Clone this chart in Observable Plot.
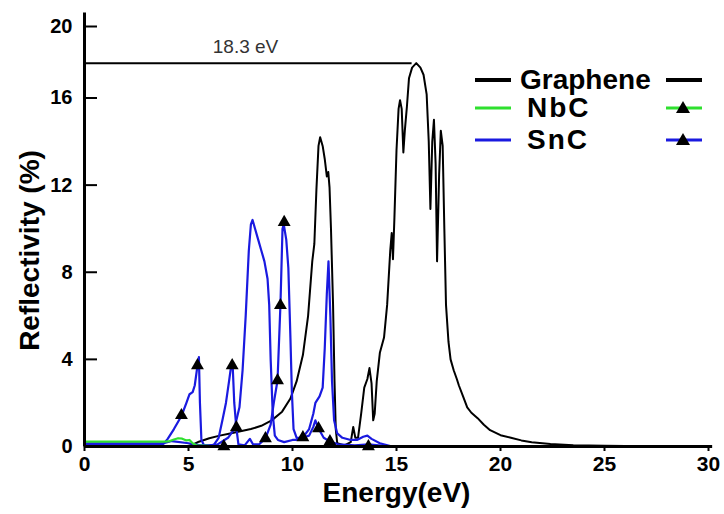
<!DOCTYPE html>
<html><head><meta charset="utf-8">
<script src="https://cdn.jsdelivr.net/npm/d3@7"></script>
<script src="https://cdn.jsdelivr.net/npm/@observablehq/plot@0.6"></script>
<style>
body{margin:0;background:#fff;font-family:"Liberation Sans",Arial,sans-serif;}
#wrap{position:relative;width:724px;height:514px;overflow:hidden;}
.lt{position:absolute;font-weight:bold;font-size:28px;line-height:28px;height:28px;color:#000;white-space:nowrap;}
.sw{position:absolute;}
</style></head><body><div id="wrap"></div>
<script>
// ---- data ----
const xTicks = [0, 5, 10, 15, 20, 25, 30];
const yTicks = [0, 4, 8, 12, 16, 20];

const grapheneE = [0,4.9,5.2,5.5,6.0,6.5,7.0,7.5,8.0,8.5,9.0,9.5,9.9,10.2,10.5,10.75,10.95,11.05,11.15,11.25,11.33,11.45,11.55,11.65,11.72,11.78,11.85,11.95,12.02,12.08,12.15,12.5,12.8,12.92,13.02,13.15,13.3,13.45,13.6,13.7,13.8,13.88,13.95,14.05,14.2,14.4,14.55,14.7,14.77,14.83,14.9,15.0,15.1,15.17,15.25,15.33,15.4,15.5,15.6,15.75,15.95,16.15,16.3,16.45,16.55,16.63,16.72,16.8,16.88,16.95,17.05,17.13,17.22,17.3,17.38,17.5,17.6,17.75,17.9,18.0,18.2,18.4,18.6,18.9,19.2,19.5,20.0,20.5,21.0,21.5,22.4,23.5,25,27,30];
const grapheneR = [0,0,0.08,0.22,0.38,0.5,0.6,0.7,0.8,0.95,1.2,1.6,2.2,3.0,4.2,6.0,8.5,9.3,11.8,13.8,14.2,13.8,13.2,12.4,12.6,11.9,10.0,6.5,3.0,0.8,0.15,0.05,0.2,0.9,0.4,0.4,1.5,2.7,3.1,3.6,2.9,1.2,1.5,3.0,4.3,5.0,6.5,9.0,9.8,8.6,10.5,13.6,15.5,15.9,15.5,13.5,14.5,15.6,17.1,17.7,17.95,17.7,17.3,16.2,14.0,10.9,14.0,15.0,13.0,8.5,12.5,14.5,13.8,10.0,6.5,4.8,4.0,3.5,3.1,2.8,2.3,1.8,1.55,1.3,1.0,0.75,0.52,0.4,0.28,0.2,0.12,0.06,0.03,0.01,0];

const nbcE = [0,3.9,4.1,4.3,4.5,4.7,4.9,5.05,5.2,5.4,6,15];
const nbcR = [0.22,0.22,0.25,0.32,0.38,0.36,0.28,0.3,0.15,0.05,0.03,0];

// SnC (plain line)
const sncE = [0,3.8,4.2,5.0,5.6,6.0,6.4,6.9,7.2,7.45,7.6,7.75,7.9,8.0,8.08,8.2,8.35,8.5,8.65,8.8,8.88,8.95,9.05,9.15,9.3,9.6,10.0,10.4,10.8,11.0,11.1,11.3,11.45,11.55,11.65,11.73,11.82,11.9,12.0,12.15,12.4,12.8,13.1,13.4,13.6,13.8,14.2,14.7,15];
const sncR = [0.15,0.15,0.25,0.15,0.05,0.05,0.1,0.4,0.8,1.8,3.5,6.0,9.0,10.2,10.4,10.0,9.5,9.0,8.5,7.7,6.5,4.0,1.5,0.5,0.3,0.2,0.3,0.3,0.8,1.5,2.0,2.3,2.7,4.5,7.0,8.5,6.0,3.0,1.2,0.6,0.4,0.3,0.3,0.45,0.5,0.35,0.15,0.02,0];

// SnC (line with triangles)
const sncTriE = [0,3.8,4.0,4.3,4.66,4.9,5.05,5.2,5.3,5.43,5.5,5.55,5.62,5.75,6.2,6.45,6.65,6.8,6.95,7.05,7.12,7.2,7.3,7.4,7.7,7.95,8.1,8.4,8.7,8.95,9.1,9.28,9.42,9.52,9.58,9.7,9.8,9.9,9.97,10.05,10.2,10.5,10.8,11.0,11.1,11.25,11.5,11.8,12.2,13.0,13.65,14.5,15];
const sncTriR = [0.12,0.12,0.35,0.8,1.4,2.0,2.4,2.5,2.8,3.7,4.1,2.0,0.3,0.05,0.05,0.4,1.3,2.0,3.0,3.7,3.8,2.0,0.87,0.1,0.05,0.35,0.1,0.1,0.37,1.0,2.0,3.03,6.5,10.0,10.2,9.5,8.2,5.0,2.5,0.8,0.4,0.41,0.5,0.9,1.2,0.83,0.4,0.23,0.1,0.05,0.1,0.02,0];

const markE = [4.66,5.43,6.7,7.1,7.3,8.7,9.28,9.42,9.6,10.5,11.25,11.8,13.65];
const markR = [1.43,3.72,0,3.72,0.87,0.37,3.03,6.48,10.3,0.41,0.83,0.23,0];

const peakR = 17.95, peakLineEnd = 15.75;
const peakLabel = "18.3 eV", peakLabelE = 7.74, peakLabelR = 18.85;

const legendNames = ["Graphene", "NbC", "SnC"];
const legendColors = ["#000000", "#2ee02e", "#1a1ae0"];
const legendTri = [false, true, true];

const axisXEnd = 30.2, axisYEnd = 20.75;

// ---- build ----
const zip = (E, R) => E.map((e, i) => ({e, r: R[i]}));
const blue = "#1a1ae0", green = "#2ee02e";

const chart = Plot.plot({
  width: 724, height: 514,
  marginLeft: 84, marginRight: 16, marginTop: 10, marginBottom: 68,
  style: {fontFamily: "Liberation Sans, Arial, sans-serif", background: "white", overflow: "visible", color: "black"},
  x: {type: "linear", domain: [0, 30]},
  y: {type: "linear", domain: [0, 16, 20], range: [446, 97.5, 26]},
  marks: [
    Plot.line(zip(grapheneE, grapheneR), {x: "e", y: "r", stroke: "black", strokeWidth: 2}),
    Plot.line(zip(sncTriE, sncTriR), {x: "e", y: "r", stroke: blue, strokeWidth: 2.2}),
    Plot.line(zip(sncE, sncR), {x: "e", y: "r", stroke: blue, strokeWidth: 2.2}),
    Plot.line(zip(nbcE, nbcR), {x: "e", y: "r", stroke: green, strokeWidth: 2.2}),
    Plot.dot(zip(markE, markR), {x: "e", y: "r", symbol: "triangle", r: 4.8, fill: "black", stroke: "none"}),
    Plot.ruleY([peakR], {x1: 0, x2: peakLineEnd, stroke: "black", strokeWidth: 2}),
    Plot.text([peakLabel], {x: peakLabelE, y: peakLabelR, text: d => d, fontSize: 19, fill: "#333"}),
    Plot.ruleX([0], {y1: 0, y2: axisYEnd, stroke: "black", strokeWidth: 3}),
    Plot.ruleY([0], {x1: 0, x2: axisXEnd, stroke: "black", strokeWidth: 3}),
    Plot.axisY(yTicks, {anchor: "left", tickSize: -13, tickPadding: 25, fontSize: 20, fontWeight: "bold", strokeWidth: 2, label: null}),
    Plot.axisX(xTicks, {anchor: "bottom", tickSize: 5, tickPadding: 5, fontSize: 21, fontWeight: "bold", strokeWidth: 2, label: null}),
    Plot.text(["Energy(eV)"], {frameAnchor: "bottom", lineAnchor: "middle", textAnchor: "middle", dy: 47, fontSize: 28, fontWeight: "bold", fill: "black"}),
    Plot.text(["Reflectivity (%)"], {frameAnchor: "left", textAnchor: "middle", lineAnchor: "middle", rotate: -90, dx: -54, dy: 22, fontSize: 28, fontWeight: "bold", fill: "black"})
  ]
});
const wrap = document.getElementById("wrap");
wrap.appendChild(chart);

// legend overlay
const rowsY = [80, 108, 140];
const textX = [520, 527, 527];
legendNames.forEach((name, i) => {
  const cy = rowsY[i];
  const t = document.createElement("div");
  t.className = "lt";
  t.textContent = name;
  t.style.left = textX[i] + "px";
  t.style.top = (cy - 14) + "px";
  if (i > 0) t.style.letterSpacing = "2px";
  wrap.appendChild(t);
  const mk = (x0, tri) => {
    const ns = "http://www.w3.org/2000/svg";
    const s = document.createElementNS(ns, "svg");
    s.setAttribute("class", "sw");
    s.setAttribute("width", 38); s.setAttribute("height", 18);
    s.style.left = x0 + "px"; s.style.top = (cy - 9) + "px";
    const l = document.createElementNS(ns, "line");
    l.setAttribute("x1", 1); l.setAttribute("x2", 37); l.setAttribute("y1", 9); l.setAttribute("y2", 9);
    l.setAttribute("stroke", legendColors[i]); l.setAttribute("stroke-width", i === 0 ? 4 : 3);
    s.appendChild(l);
    if (tri) {
      const p = document.createElementNS(ns, "polygon");
      p.setAttribute("points", "18,2 25,14 11,14");
      p.setAttribute("fill", "black");
      s.appendChild(p);
    }
    wrap.appendChild(s);
  };
  mk(474, false);
  mk(665, legendTri[i]);
});
</script>
</body></html>
